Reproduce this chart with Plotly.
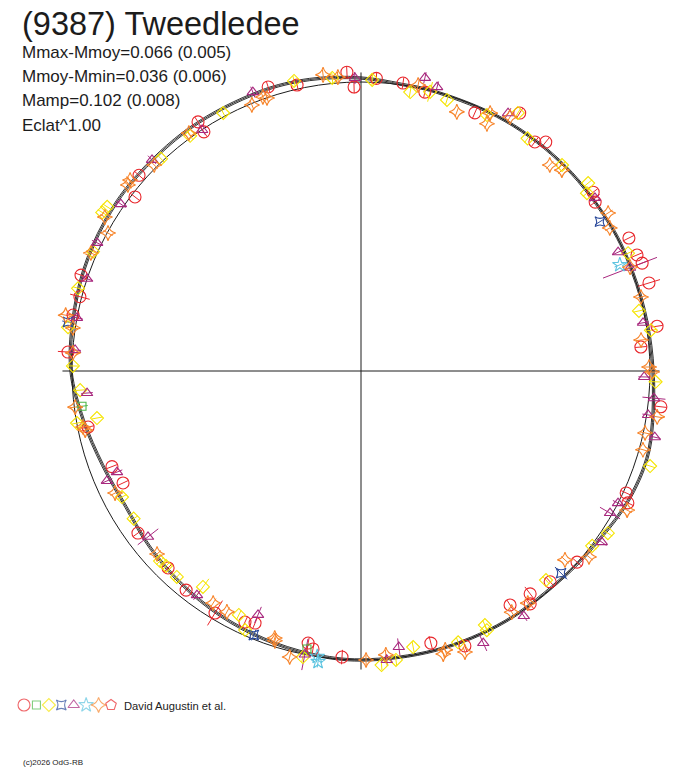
import plotly.graph_objects as go

# ---------------- data (phase angle in degrees, relative radius, radial error) ----------------
CURVE_THETA = [0, 10, 20, 30, 45, 60, 75, 82, 90, 100, 110, 125, 140, 150, 160, 170, 180,
               190, 200, 210, 220, 230, 240, 250, 260, 270, 285, 300, 315, 325, 334, 343, 350, 360]
CURVE_R = [1.0104, 1.0035, 1.0, 1.0, 1.0, 1.0, 1.0, 1.0017, 1.0138, 1.0242, 1.0277, 1.0277,
           1.0277, 1.026, 1.0208, 1.0121, 1.0035, 0.9758, 0.9516, 0.9394, 0.9516, 0.9637,
           0.9758, 0.9862, 0.9948, 1.0, 1.0, 1.0, 1.0, 1.0104, 1.0277, 1.0346, 1.0242, 1.0104]

RED_CIRCLE = [
    (102.6, 1.014, 0.020), (92.7, 1.035, 0.021), (91.4, 0.983, 0.022), (87.0, 1.014, 0.020),
    (81.7, 1.007, 0.020), (77.1, 0.990, 0.020), (66.2, 0.976, 0.020), (58.4, 1.048, 0.020),
    (52.8, 0.995, 0.020), (51.1, 1.018, 0.020), (37.6, 1.014, 0.020), (35.8, 0.999, 0.020),
    (26.4, 1.035, 0.020), (22.8, 1.036, 0.020), (21.0, 1.042, 0.020), (17.0, 1.042, 0.040),
    (8.6, 1.036, 0.020), (4.9, 0.972, 0.020), (353.2, 1.045, 0.020), (335.3, 1.010, 0.020),
    (333.7, 1.030, 0.020), (318.5, 0.998, 0.020), (311.9, 0.980, 0.020), (307.2, 0.968, 0.030),
    (306.0, 0.996, 0.020), (302.5, 0.960, 0.020), (290.7, 1.017, 0.020), (284.4, 0.972, 0.025),
    (266.2, 0.992, 0.025), (259.0, 0.959, 0.020), (260.2, 0.976, 0.020), (247.2, 0.946, 0.020),
    (245.2, 0.957, 0.020), (238.9, 0.978, 0.050), (231.4, 0.970, 0.020), (225.6, 0.954, 0.020),
    (216.0, 0.954, 0.020), (205.2, 0.910, 0.020), (201.0, 0.923, 0.020), (191.6, 0.964, 0.020),
    (176.3, 1.016, 0.035), (169.0, 1.015, 0.020), (165.2, 1.006, 0.035), (161.1, 1.024, 0.020),
    (142.4, 0.987, 0.020), (138.6, 1.024, 0.020), (123.3, 0.990, 0.020), (123.2, 1.030, 0.020),
    (108.1, 1.034, 0.020),
]
GREEN_SQUARE = [(259.0, 0.980, 0.020), (187.2, 0.973, 0.020)]
YELLOW_DIAMOND = [
    (103.0, 1.030, 0.018), (95.6, 1.019, 0.018), (87.8, 1.008, 0.018), (80.0, 0.980, 0.018),
    (76.1, 0.995, 0.035), (72.4, 0.984, 0.018), (63.8, 0.987, 0.018), (58.7, 1.045, 0.018),
    (54.4, 0.990, 0.018), (45.7, 0.996, 0.018), (39.6, 1.020, 0.018), (38.2, 0.995, 0.018),
    (23.8, 1.010, 0.018), (12.2, 0.984, 0.018), (8.0, 1.013, 0.018), (357.9, 1.020, 0.018),
    (341.8, 1.053, 0.018), (326.7, 1.022, 0.018), (322.9, 1.003, 0.018), (311.5, 0.966, 0.018),
    (296.0, 0.978, 0.018), (295.9, 0.997, 0.018), (289.7, 0.997, 0.018), (276.9, 1.007, 0.018),
    (274.0, 1.020, 0.018), (280.7, 0.972, 0.018), (258.5, 1.010, 0.018), (245.9, 0.982, 0.018),
    (243.4, 0.944, 0.018), (233.8, 0.926, 0.035), (228.2, 0.956, 0.018), (223.4, 0.957, 0.018),
    (225.0, 0.954, 0.018), (213.0, 0.938, 0.018), (207.8, 0.935, 0.018), (190.4, 0.999, 0.018),
    (190.1, 0.928, 0.018), (183.9, 0.974, 0.018), (179.0, 0.997, 0.018), (171.5, 1.025, 0.018),
    (163.7, 1.020, 0.018), (156.0, 1.015, 0.018), (147.1, 1.046, 0.018), (148.5, 1.050, 0.018),
    (133.3, 1.009, 0.018), (126.0, 1.006, 0.018), (118.1, 1.012, 0.018),
]
BLUE_STARSQUARE = [(32.0, 0.975, 0.020), (314.7, 0.984, 0.030), (247.9, 0.986, 0.020),
                   (170.5, 1.028, 0.020)]
PURPLE_TRIANGLE = [
    (111.2, 1.035, 0.020), (91.2, 1.014, 0.021), (77.7, 1.038, 0.020), (75.0, 1.017, 0.020),
    (60.3, 1.027, 0.020), (36.5, 1.007, 0.020), (24.8, 0.980, 0.020), (21.0, 0.997, 0.100),
    (9.7, 0.990, 0.020), (358.8, 0.980, 0.020), (354.7, 1.018, 0.040), (351.3, 1.005, 0.020),
    (347.3, 1.042, 0.020), (332.8, 1.000, 0.020), (330.3, 0.992, 0.040), (324.6, 1.022, 0.020),
    (303.6, 1.018, 0.020), (294.2, 1.032, 0.030), (277.8, 0.964, 0.030), (275.1, 1.004, 0.020),
    (258.8, 1.000, 0.055), (247.1, 0.916, 0.030), (233.8, 0.961, 0.020), (217.9, 0.934, 0.045),
    (203.4, 0.958, 0.020), (202.5, 0.914, 0.020), (184.6, 0.951, 0.020), (175.8, 0.992, 0.020),
    (169.4, 1.000, 0.020), (161.4, 1.000, 0.020), (154.1, 1.015, 0.020), (145.2, 1.012, 0.020),
    (134.7, 1.028, 0.020), (123.4, 0.999, 0.020),
]
CYAN_STAR = [(22.3, 0.968, 0.020), (261.3, 1.000, 0.020), (261.6, 1.017, 0.020)]
ORANGE_STAR = [
    (97.3, 1.033, 0.018), (94.5, 1.020, 0.018), (78.7, 1.009, 0.018), (69.7, 0.956, 0.018),
    (63.4, 0.998, 0.018), (63.0, 0.960, 0.018), (59.6, 1.019, 0.018), (47.5, 0.967, 0.018),
    (45.0, 0.983, 0.018), (32.6, 1.015, 0.018), (29.9, 0.993, 0.018), (21.1, 0.998, 0.018),
    (14.8, 1.002, 0.018), (6.3, 0.975, 0.018), (0.8, 0.997, 0.018), (359.8, 1.007, 0.018),
    (351.2, 1.037, 0.018), (347.7, 1.006, 0.018), (344.4, 1.013, 0.018), (332.4, 1.039, 0.018),
    (320.8, 1.018, 0.018), (317.2, 0.962, 0.018), (305.7, 0.989, 0.018), (302.0, 0.984, 0.018),
    (290.3, 1.037, 0.018), (286.8, 1.008, 0.018), (286.2, 1.020, 0.018), (271.0, 1.000, 0.018),
    (275.0, 0.986, 0.018), (256.0, 1.020, 0.018), (252.3, 0.980, 0.018), (252.1, 0.971, 0.018),
    (240.9, 0.954, 0.018), (237.5, 0.952, 0.018), (221.9, 0.948, 0.018), (206.4, 0.950, 0.018),
    (191.4, 0.981, 0.018), (192.1, 0.976, 0.018), (187.2, 0.997, 0.018), (176.4, 0.999, 0.018),
    (171.5, 1.008, 0.018), (169.3, 1.040, 0.018), (156.4, 1.020, 0.018), (151.4, 0.997, 0.018),
    (149.0, 1.034, 0.018), (140.4, 1.037, 0.018), (141.4, 1.032, 0.018), (135.1, 1.010, 0.018),
    (125.9, 1.016, 0.018), (112.3, 0.995, 0.018), (109.7, 1.007, 0.018), (109.0, 0.999, 0.018),
]
RED_PENTAGON = []

TITLE = "(9387) Tweedledee"
INFO_LINES = ["Mmax-Mmoy=0.066 (0.005)", "Mmoy-Mmin=0.036 (0.006)", "Mamp=0.102 (0.008)", "Eclat^1.00"]
AUTHOR = "David Augustin et al."
COPYRIGHT = "(c)2026 OdG-RB"

# ---------------- styles ----------------
W, H = 688, 768
CX, CY, R_PX = 361, 371, 289          # centre and unit-circle radius in pixels
R_MAX = 1.10                          # radial range shown
AXIS_EXT = 1.033                      # length of the cross-hair lines
INK = "#1c1c1c"
FONT = "Liberation Sans, Arial, sans-serif"

SERIES = [
    (RED_CIRCLE, "circle-open", 12, "#e8262b"),
    (GREEN_SQUARE, "square-open", 8, "#4db848"),
    (YELLOW_DIAMOND, "diamond-open", 10, "#f5e400"),
    (BLUE_STARSQUARE, "star-square-open", 9, "#2b4a9b"),
    (PURPLE_TRIANGLE, "triangle-up-open", 10, "#a8287e"),
    (CYAN_STAR, "star-open", 11, "#5ec4e0"),
    (ORANGE_STAR, "star-diamond-open", 11, "#f7842a"),
    (RED_PENTAGON, "pentagon-open", 11, "#e8262b"),
]

fig = go.Figure()

# cross-hair axes
fig.add_trace(go.Scatterpolar(
    r=[AXIS_EXT, 0, AXIS_EXT, None, AXIS_EXT, 0, AXIS_EXT],
    theta=[180, 0, 0, None, 90, 0, 270],
    mode="lines", line=dict(color=INK, width=1), hoverinfo="skip", showlegend=False))

# fitted light-curve (drawn as a triple line)
for off in (-0.004, 0.0, 0.004):
    fig.add_trace(go.Scatterpolar(
        r=[v + off for v in CURVE_R], theta=CURVE_THETA, mode="lines",
        line=dict(color=INK, width=0.9, shape="spline"), hoverinfo="skip", showlegend=False))

# error bars
for data, sym, size, col in SERIES:
    rr, tt = [], []
    for t, r, e in data:
        rr += [r - e, r + e, None]
        tt += [t, t, None]
    if rr:
        fig.add_trace(go.Scatterpolar(r=rr, theta=tt, mode="lines",
                                      line=dict(color=col, width=1), hoverinfo="skip",
                                      showlegend=False))

# markers
for data, sym, size, col in SERIES:
    if not data:
        continue
    fig.add_trace(go.Scatterpolar(
        r=[d[1] for d in data], theta=[d[0] for d in data], mode="markers",
        marker=dict(symbol=sym, size=size, color=col, line=dict(width=1.1, color=col)),
        cliponaxis=False, showlegend=False))

# legend row (own hidden cartesian axes)
fig.add_trace(go.Scatter(
    x=list(range(len(SERIES))), y=[0] * len(SERIES), mode="markers",
    marker=dict(symbol=[s[1] for s in SERIES], size=[s[2] for s in SERIES],
                color=[s[3] for s in SERIES], line=dict(width=1.1, color=[s[3] for s in SERIES])),
    xaxis="x", yaxis="y", showlegend=False, hoverinfo="skip", cliponaxis=False))

dom_x = [(CX - R_MAX * R_PX) / W, (CX + R_MAX * R_PX) / W]
dom_y = [(H - CY - R_MAX * R_PX) / H, (H - CY + R_MAX * R_PX) / H]

LEG_X0, LEG_STEP, LEG_Y = 24, 12.43, 705
annotations = [
    dict(text=TITLE, x=20 / W, y=1 - 24 / H, xanchor="left", yanchor="middle",
         font=dict(family=FONT, size=32.5, color=INK)),
]
for i, line in enumerate(INFO_LINES):
    annotations.append(dict(text=line, x=20 / W, y=1 - (52.5 + 24.2 * i) / H, xanchor="left",
                            yanchor="middle", font=dict(family=FONT, size=17, color=INK)))
annotations.append(dict(text=AUTHOR, x=122 / W, y=1 - 705.5 / H, xanchor="left", yanchor="middle",
                        font=dict(family=FONT, size=11.2, color=INK)))
annotations.append(dict(text=COPYRIGHT, x=21 / W, y=1 - 762 / H, xanchor="left", yanchor="middle",
                        font=dict(family=FONT, size=8, color=INK)))
for a in annotations:
    a.update(xref="paper", yref="paper", showarrow=False)

fig.update_layout(
    width=W, height=H, margin=dict(l=0, r=0, t=0, b=0),
    paper_bgcolor="white", plot_bgcolor="white",
    polar=dict(
        domain=dict(x=dom_x, y=dom_y),
        bgcolor="white",
        radialaxis=dict(range=[0, R_MAX], showline=False, ticks="", showticklabels=False,
                        tickvals=[1.0], showgrid=True, gridcolor=INK, gridwidth=1),
        angularaxis=dict(showgrid=False, showline=False, ticks="", showticklabels=False,
                         rotation=0, direction="counterclockwise"),
    ),
    xaxis=dict(domain=[(LEG_X0 - LEG_STEP / 2) / W, (LEG_X0 + LEG_STEP * 7.5) / W],
               range=[-0.5, 7.5], visible=False, fixedrange=True),
    yaxis=dict(domain=[1 - 715 / H, 1 - 695 / H], range=[-1, 1], visible=False, fixedrange=True),
    annotations=annotations,
)

fig.write_html("out.html", config={"displayModeBar": False},
               post_script="document.body.style.margin='0';")
